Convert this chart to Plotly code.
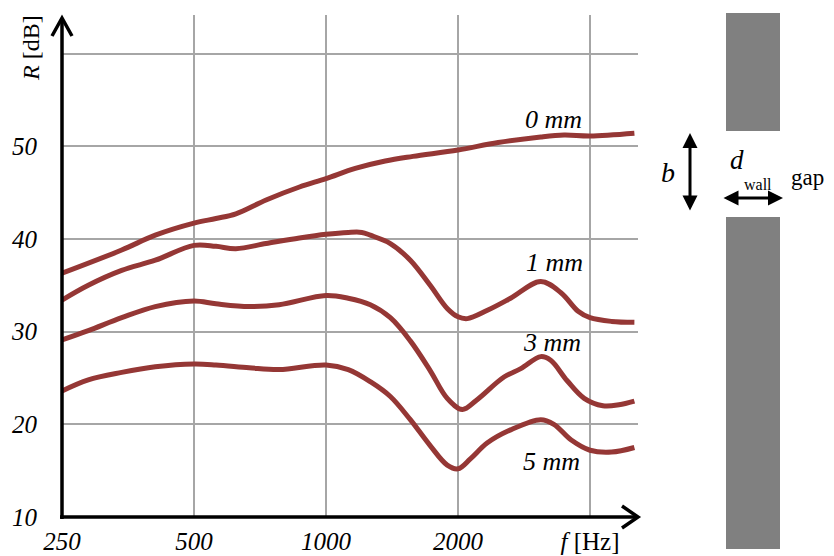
import math
import plotly.graph_objects as go

# ---- data ----
f_0mm = [250, 342, 408, 500, 561, 623, 730, 870, 1000, 1166, 1365, 1578, 2000, 2470, 3089, 3490, 4000, 5050]
R_0mm = [36.3, 38.8, 40.4, 41.7, 42.2, 42.7, 44.2, 45.6, 46.5, 47.6, 48.4, 48.9, 49.6, 50.4, 51.0, 51.2, 51.1, 51.4]

f_1mm = [250, 287, 342, 408, 500, 561, 623, 730, 870, 1000, 1124, 1207, 1262, 1402, 1557, 1728, 1890, 2000, 2100,
         2334, 2636, 3089, 3434, 3758, 4000, 4480, 5050]
R_1mm = [33.4, 35.0, 36.6, 37.7, 39.3, 39.2, 38.95, 39.5, 40.1, 40.5, 40.7, 40.7, 40.4, 39.5, 37.7, 35.0, 32.5, 31.6, 31.4,
         32.3, 33.6, 35.4, 34.2, 32.2, 31.5, 31.1, 31.0]

f_3mm = [250, 287, 342, 408, 500, 561, 668, 782, 1000, 1124, 1262, 1402, 1557, 1728, 1890, 2046, 2204, 2546, 2781,
         3089, 3254, 3548, 3880, 4280, 4657, 5050]
R_3mm = [29.1, 30.1, 31.5, 32.7, 33.3, 33.0, 32.7, 32.9, 33.9, 33.6, 32.9, 31.5, 29.0, 25.8, 22.8, 21.6, 22.6, 25.1, 26.0,
         27.3, 26.9, 24.7, 22.8, 22.0, 22.1, 22.5]

f_5mm = [250, 287, 342, 408, 500, 561, 668, 782, 1000, 1124, 1262, 1402, 1557, 1728, 1890, 2000, 2137, 2334, 2636,
         3089, 3309, 3625, 4000, 4480, 5050]
R_5mm = [23.6, 24.8, 25.6, 26.2, 26.5, 26.4, 26.1, 25.9, 26.4, 25.9, 24.6, 23.0, 20.5, 17.7, 15.6, 15.2, 16.3, 18.0, 19.4,
         20.5, 20.0, 18.3, 17.2, 17.0, 17.5]

series_names = ["0 mm", "1 mm", "3 mm", "5 mm"]

x_tickvals = [250, 500, 1000, 2000, 4000]
x_ticktext = ["<i>250</i>", "<i>500</i>", "<i>1000</i>", "<i>2000</i>", "<i>f</i> [Hz]"]
y_tickvals = [10, 20, 30, 40, 50, 60]
y_ticktext = ["<i>10</i>", "<i>20</i>", "<i>30</i>", "<i>40</i>", "<i>50</i>", ""]

# ---- figure ----
CURVE = "#953735"
SERIF = "Liberation Serif"

fig = go.Figure()
for fx, ry, name in zip([f_0mm, f_1mm, f_3mm, f_5mm], [R_0mm, R_1mm, R_3mm, R_5mm], series_names):
    fig.add_trace(go.Scatter(x=fx, y=ry, mode="lines", name=name,
                             line=dict(color=CURVE, width=5, shape="spline", smoothing=1.0),
                             showlegend=False, hoverinfo="skip"))

# page body has an 8px margin; figure is sized to fit the 834x556 window
W, H = 826, 548
L, R_, T, B = 54, 196, 7, 39
pw, ph = W - L - R_, H - T - B
AX_X, AX_Y = 62, 517  # window pixel of axis origin


def px(xw):
    return (xw - AX_X) / pw


def py(yw):
    return (AX_Y - yw) / ph


x_lo = math.log10(250)
x_hi = x_lo + (pw / 132.0) * math.log10(2)

fig.update_layout(
    width=W, height=H, autosize=False,
    margin=dict(l=L, r=R_, t=T, b=B, pad=0, autoexpand=False),
    paper_bgcolor="white", plot_bgcolor="white",
    font=dict(family=SERIF, color="black"),
    xaxis=dict(type="log", range=[x_lo, x_hi], tickvals=x_tickvals, ticktext=x_ticktext, automargin=False,
               showgrid=True, gridcolor="#a6a6a6", gridwidth=1.5, showline=False, zeroline=False,
               ticks="", ticklabelstandoff=7, tickfont=dict(family=SERIF, size=25, color="black")),
    yaxis=dict(range=[10, 10 + ph / 9.27], tickvals=y_tickvals, ticktext=y_ticktext, automargin=False,
               showgrid=True, gridcolor="#a6a6a6", gridwidth=1.5, showline=False, zeroline=False,
               ticks="", ticklabelstandoff=24, tickfont=dict(family=SERIF, size=25, color="black")),
)

shapes = []
# axis lines with open chevron heads
shapes.append(dict(type="line", xref="paper", yref="paper", x0=px(60), x1=1, y0=0, y1=0,
                   line=dict(color="black", width=3.5)))
shapes.append(dict(type="path", xref="paper", yref="paper", xsizemode="pixel", ysizemode="pixel",
                   xanchor=1, yanchor=0, path="M -16,11 L 0,0 L -16,-11",
                   line=dict(color="black", width=3.5)))
shapes.append(dict(type="line", xref="paper", yref="paper", x0=0, x1=0, y0=py(519), y1=py(18),
                   line=dict(color="black", width=3.5)))
shapes.append(dict(type="path", xref="paper", yref="paper", xsizemode="pixel", ysizemode="pixel",
                   xanchor=0, yanchor=py(18), path="M -10,-18 L 0,0 L 10,-18",
                   line=dict(color="black", width=3.5)))
# wall blocks
shapes.append(dict(type="rect", xref="paper", yref="paper", x0=px(726), x1=px(780), y0=py(131), y1=py(13),
                   fillcolor="#808080", line=dict(width=0), layer="above"))
shapes.append(dict(type="rect", xref="paper", yref="paper", x0=px(726), x1=px(780), y0=py(549), y1=py(217),
                   fillcolor="#808080", line=dict(width=0), layer="above"))
fig.update_layout(shapes=shapes)

ann = []
# y axis title
ann.append(dict(text="<i>R</i> [dB]", xref="paper", yref="paper", x=px(31), y=py(48), showarrow=False,
                textangle=-90, font=dict(family=SERIF, size=24, color="black"),
                xanchor="center", yanchor="middle"))
# curve labels (placed in data coordinates)
label_pos = [(3303, 52.9), (3322, 37.5), (3269, 28.8), (3269, 16.0)]
for (lf, lr), name in zip(label_pos, series_names):
    n, u = name.split(" ")
    ann.append(dict(text=f"<i>{n} {u}</i>", x=math.log10(lf), y=lr, xref="x", yref="y", showarrow=False,
                    font=dict(family=SERIF, size=26, color="black"), xanchor="center", yanchor="middle"))
# gap sketch arrows
ann.append(dict(text="", xref="paper", yref="paper", x=px(690), y=py(133), ax=0, ay=79,
                axref="pixel", ayref="pixel", showarrow=True, arrowhead=2, startarrowhead=2,
                arrowside="end+start", arrowwidth=3, arrowsize=1, arrowcolor="black"))
ann.append(dict(text="", xref="paper", yref="paper", x=px(783), y=py(198), ax=-61, ay=0,
                axref="pixel", ayref="pixel", showarrow=True, arrowhead=2, startarrowhead=2,
                arrowside="end+start", arrowwidth=3, arrowsize=1, arrowcolor="black"))
ann.append(dict(text="<i>b</i>", xref="paper", yref="paper", x=px(668), y=py(172), showarrow=False,
                xanchor="center", yanchor="middle", font=dict(family=SERIF, size=28, color="black")))
ann.append(dict(text="<i>d</i>", xref="paper", yref="paper", x=px(737), y=py(176), showarrow=False,
                xanchor="center", yanchor="bottom", borderpad=0, font=dict(family=SERIF, size=27, color="black")))
ann.append(dict(text="wall", xref="paper", yref="paper", x=px(758), y=py(175), showarrow=False,
                xanchor="center", yanchor="top", borderpad=0, font=dict(family=SERIF, size=16, color="black")))
ann.append(dict(text="gap", xref="paper", yref="paper", x=px(790), y=py(177), showarrow=False,
                xanchor="left", yanchor="middle", borderpad=0, font=dict(family=SERIF, size=23, color="black")))
fig.update_layout(annotations=ann)

fig.write_html("out.html")
